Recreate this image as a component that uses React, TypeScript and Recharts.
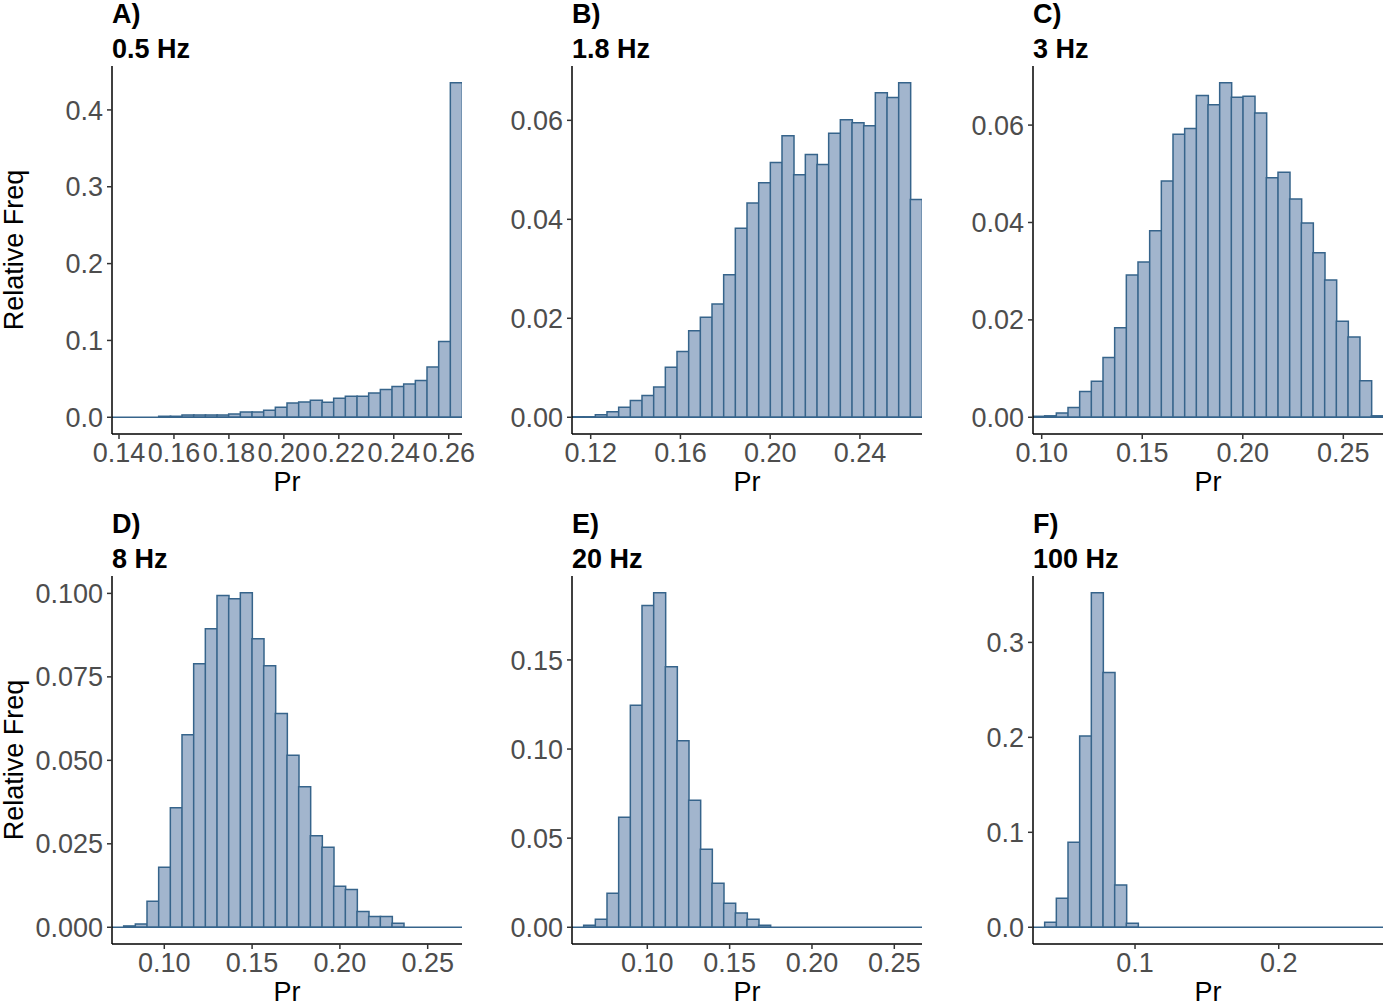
import { BarChart, Bar, XAxis, YAxis, ReferenceLine } from 'recharts';

// panel headings
const panelLetters = ['A)', 'B)', 'C)', 'D)', 'E)', 'F)'];
const panelRates = ['0.5 Hz', '1.8 Hz', '3 Hz', '8 Hz', '20 Hz', '100 Hz'];

// histogram bins: left edge of first bin and bin width (30 bins each)
const binStarts = [0.13745, 0.11167, 0.09567, 0.07022, 0.05427, 0.029];
const binWidths = [0.004246, 0.0052, 0.005802, 0.006644, 0.007085, 0.008119];

// relative frequencies
const freqA = [0, 0, 0, 0, 0.0013, 0.0013, 0.003, 0.003, 0.003, 0.003, 0.0043, 0.0069, 0.0069, 0.0091, 0.013, 0.0186, 0.02, 0.022, 0.0195, 0.0246, 0.0272, 0.0272, 0.0316, 0.0363, 0.0402, 0.0432, 0.048, 0.0653, 0.0986, 0.4354];
const freqB = [0.0001, 0.0001, 0.0005, 0.0011, 0.002, 0.0034, 0.0044, 0.0061, 0.0101, 0.0133, 0.0175, 0.0202, 0.0229, 0.0288, 0.0382, 0.0433, 0.0474, 0.0515, 0.0569, 0.049, 0.0531, 0.0511, 0.0574, 0.0601, 0.0595, 0.0589, 0.0656, 0.0646, 0.0676, 0.044];
const freqC = [0.0002, 0.0003, 0.0009, 0.002, 0.0053, 0.0074, 0.0123, 0.0184, 0.0292, 0.0319, 0.0383, 0.0485, 0.0581, 0.0593, 0.0661, 0.0642, 0.0687, 0.0657, 0.0659, 0.0625, 0.0492, 0.0503, 0.0448, 0.0399, 0.0338, 0.0282, 0.0197, 0.0165, 0.0075, 0.0003];
const freqD = [0, 0.0004, 0.001, 0.0078, 0.018, 0.0358, 0.0577, 0.0789, 0.0894, 0.0994, 0.0984, 0.1002, 0.0864, 0.0783, 0.064, 0.0515, 0.0421, 0.0274, 0.024, 0.0123, 0.0113, 0.0047, 0.0032, 0.0032, 0.0012, 0, 0, 0, 0, 0];
const freqE = [0, 0.0011, 0.0045, 0.0191, 0.0617, 0.1245, 0.1806, 0.1877, 0.1462, 0.1047, 0.0712, 0.0438, 0.0247, 0.0135, 0.008, 0.0045, 0.0011, 0, 0, 0, 0, 0, 0, 0, 0, 0, 0, 0, 0, 0];
const freqF = [0, 0.0053, 0.0305, 0.0895, 0.2014, 0.3523, 0.2684, 0.0446, 0.0042, 0, 0, 0, 0, 0, 0, 0, 0, 0, 0, 0, 0, 0, 0, 0, 0, 0, 0, 0, 0, 0];
const frequencies = [freqA, freqB, freqC, freqD, freqE, freqF];

// axis ticks
const xTicks = [
  [0.14, 0.16, 0.18, 0.2, 0.22, 0.24, 0.26],
  [0.12, 0.16, 0.2, 0.24],
  [0.1, 0.15, 0.2, 0.25],
  [0.1, 0.15, 0.2, 0.25],
  [0.1, 0.15, 0.2, 0.25],
  [0.1, 0.2],
];
const xDigits = [2, 2, 2, 2, 2, 1];
const yTicks = [
  [0, 0.1, 0.2, 0.3, 0.4],
  [0, 0.02, 0.04, 0.06],
  [0, 0.02, 0.04, 0.06],
  [0, 0.025, 0.05, 0.075, 0.1],
  [0, 0.05, 0.1, 0.15],
  [0, 0.1, 0.2, 0.3],
];
const yDigits = [1, 2, 2, 3, 2, 1];

const FILL = '#A2B5CD';
const EDGE = '#36648B';
const FONT = '"Liberation Sans", Arial, Helvetica, sans-serif';

const colLeft = [0, 461, 922];
const colWidth = [462, 461, 461];
const colAxisW = [112, 111, 111];
const rowTop = [0, 510];
const SPARE = 24; // room on the right so the last tick label is not clipped

function Panel({ idx }: { idx: number }) {
  const col = idx % 3;
  const row = Math.floor(idx / 3);
  const freq = frequencies[idx];
  const start = binStarts[idx];
  const w = binWidths[idx];
  const end = start + freq.length * w;
  const data = freq.map((f, i) => ({ x: start + (i + 0.5) * w, freq: f }));
  const max = Math.max(...freq);
  const axisW = colAxisW[col];

  const titleStyle = {
    position: 'absolute' as const,
    left: axisW,
    fontSize: 27,
    lineHeight: '27px',
    fontWeight: 700,
    color: '#000',
    whiteSpace: 'nowrap' as const,
  };

  return (
    <div style={{ position: 'absolute', left: colLeft[col], top: rowTop[row], width: colWidth[col] + SPARE, height: 500 }}>
      <div style={{ ...titleStyle, top: 0.8 }}>{panelLetters[idx]}</div>
      <div style={{ ...titleStyle, top: 35.6 }}>{panelRates[idx]}</div>
      <BarChart
        width={colWidth[col] + SPARE}
        height={500}
        data={data}
        margin={{ top: 66, right: SPARE, bottom: 0, left: 0 }}
        barCategoryGap={0}
        barGap={0}
      >
        <XAxis
          type="number"
          dataKey="x"
          domain={[start, end]}
          allowDataOverflow
          ticks={xTicks[idx]}
          interval={0}
          tickFormatter={(v: number) => v.toFixed(xDigits[idx])}
          height={66}
          tickSize={5}
          tickMargin={4}
          axisLine={{ stroke: '#000', strokeWidth: 1.5 }}
          tickLine={{ stroke: '#333', strokeWidth: 1.5 }}
          tick={{ fontSize: 27, fill: '#4D4D4D' }}
          label={{ value: 'Pr', position: 'insideBottom', offset: 9, fontSize: 27, fill: '#000' }}
        />
        <YAxis
          type="number"
          domain={[-0.05 * max, 1.05 * max]}
          allowDataOverflow
          ticks={yTicks[idx]}
          interval={0}
          tickFormatter={(v: number) => v.toFixed(yDigits[idx])}
          width={axisW}
          tickSize={5}
          tickMargin={4}
          axisLine={{ stroke: '#000', strokeWidth: 1.5 }}
          tickLine={{ stroke: '#333', strokeWidth: 1.5 }}
          tick={{ fontSize: 27, fill: '#4D4D4D' }}
          label={
            col === 0
              ? { value: 'Relative Freq', angle: -90, position: 'insideLeft', offset: 13, fontSize: 27, fill: '#000', style: { textAnchor: 'middle' } }
              : undefined
          }
        />
        <ReferenceLine y={0} stroke={EDGE} strokeWidth={1.5} />
        <Bar dataKey="freq" fill={FILL} stroke={EDGE} strokeWidth={1.5} isAnimationActive={false} />
      </BarChart>
    </div>
  );
}

export default function App() {
  return (
    <div
      style={{
        position: 'absolute',
        left: 0,
        top: 0,
        width: 1383,
        height: 1002,
        overflow: 'hidden',
        background: '#fff',
        fontFamily: FONT,
      }}
    >
      {[0, 1, 2, 3, 4, 5].map((i) => (
        <Panel key={i} idx={i} />
      ))}
    </div>
  );
}
